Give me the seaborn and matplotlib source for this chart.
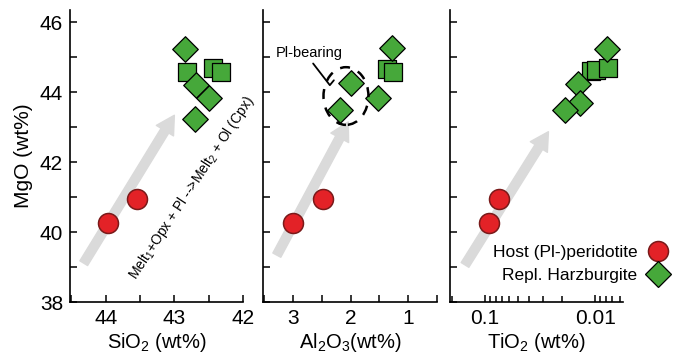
import matplotlib
matplotlib.use("Agg")
import matplotlib.pyplot as plt
import numpy as np
import pandas as pd
import seaborn as sns
from matplotlib.lines import Line2D
from matplotlib.patches import Ellipse
from matplotlib.ticker import MultipleLocator, FixedLocator, NullFormatter

# host (Pl-)peridotite, shared MgO
host_mgo = [40.25, 40.95]
host_sio2 = [43.97, 43.54]
host_al2o3 = [3.00, 2.48]
host_tio2 = [0.092, 0.074]

# replacive harzburgite, diamonds
dia_sio2 = [42.85, 42.68, 42.50, 42.70]
dia_sio2_mgo = [45.23, 44.20, 43.83, 43.23]
dia_al2o3 = [1.28, 2.00, 1.52, 2.18]
dia_al2o3_mgo = [45.25, 44.25, 43.82, 43.49]
dia_tio2 = [0.0078, 0.0142, 0.0137, 0.0187]
dia_tio2_mgo = [45.23, 44.22, 43.68, 43.49]

# replacive harzburgite, squares
sq_sio2 = [42.81, 42.43, 42.32]
sq_sio2_mgo = [44.57, 44.69, 44.57]
sq_al2o3 = [1.37, 1.26]
sq_al2o3_mgo = [44.65, 44.58]
sq_tio2 = [0.0109, 0.0098, 0.0076]
sq_tio2_mgo = [44.60, 44.62, 44.70]

# trend arrows (start, tip) in data units
arrow_sio2 = [(44.32, 39.11), (43.00, 43.34)]
arrow_al2o3 = [(3.28, 39.34), (2.04, 43.15)]
arrow_tio2 = [(0.152, 39.06), (0.0266, 42.87)]

red = "#e32227"
red_edge = "#7a1a1a"
green = "#46a83a"
grey = "#dadada"

sns.set_style("ticks")
plt.rcParams["font.family"] = ["Liberation Sans", "DejaVu Sans"]
plt.rcParams["mathtext.fontset"] = "custom"
plt.rcParams["mathtext.rm"] = "Liberation Sans"
plt.rcParams["text.color"] = "black"
plt.rcParams["axes.labelcolor"] = "black"

fig = plt.figure(figsize=(6.75, 3.54), dpi=100)
W, H = 675, 354
bottom = (H - 302) / H
height = 292 / H
ax1 = fig.add_axes([70 / W, bottom, 173 / W, height])
ax2 = fig.add_axes([263 / W, bottom, 174 / W, height])
ax3 = fig.add_axes([450 / W, bottom, 173 / W, height])


def draw(ax, hx, dx, dy, sx, sy, arrow):
    ax.annotate("", xy=arrow[1], xytext=arrow[0],
                arrowprops=dict(arrowstyle="simple,head_width=1.45,head_length=1.3,tail_width=0.65",
                                color=grey, mutation_scale=10, shrinkA=0, shrinkB=0),
                zorder=1)
    host = pd.DataFrame({"x": hx, "y": host_mgo})
    sq = pd.DataFrame({"x": sx, "y": sy})
    dia = pd.DataFrame({"x": dx, "y": dy})
    sns.scatterplot(data=host, x="x", y="y", marker="o", s=207, color=red,
                    edgecolor=red_edge, linewidth=1.1, ax=ax, zorder=3, legend=False)
    sns.scatterplot(data=sq, x="x", y="y", marker="s", s=169, color=green,
                    edgecolor="black", linewidth=0.9, ax=ax, zorder=3, legend=False)
    sns.scatterplot(data=dia, x="x", y="y", marker="D", s=169, color=green,
                    edgecolor="black", linewidth=0.9, ax=ax, zorder=4, legend=False)
    ax.set_ylim(38, 46.35)
    ax.yaxis.set_major_locator(MultipleLocator(2))
    ax.yaxis.set_minor_locator(MultipleLocator(1))
    sns.despine(ax=ax)
    for s in ("left", "bottom"):
        ax.spines[s].set_linewidth(1.2)
        ax.spines[s].set_color("black")
    ax.tick_params(which="both", direction="in", length=5, width=1.1,
                   labelsize=15, pad=5, colors="black")
    ax.set_ylabel("")


draw(ax1, host_sio2, dia_sio2, dia_sio2_mgo, sq_sio2, sq_sio2_mgo, arrow_sio2)
ax1.set_xlim(44.52, 42.0)
ax1.xaxis.set_major_locator(MultipleLocator(1))
ax1.xaxis.set_minor_locator(MultipleLocator(0.5))
ax1.set_xlabel("SiO$\\mathregular{_2}$ (wt%)", fontsize=14.5, labelpad=2)
ax1.set_ylabel("MgO (wt%)", fontsize=15, labelpad=5)
ax1.text(42.74, 41.26, "Melt$\\mathregular{_1}$+Opx + Pl -->Melt$\\mathregular{_2}$ + Ol (Cpx)",
         rotation=56.7, rotation_mode="anchor", ha="center", va="center", fontsize=10)

draw(ax2, host_al2o3, dia_al2o3, dia_al2o3_mgo, sq_al2o3, sq_al2o3_mgo, arrow_al2o3)
ax2.set_xlim(3.52, 0.5)
ax2.xaxis.set_major_locator(MultipleLocator(1))
ax2.xaxis.set_minor_locator(MultipleLocator(0.5))
ax2.yaxis.set_major_formatter(NullFormatter())
ax2.set_xlabel("Al$\\mathregular{_2}$O$\\mathregular{_3}$(wt%)", fontsize=14.5, labelpad=2)
ax2.add_patch(Ellipse((2.08, 43.89), 0.78, 1.65, angle=0, fill=False, ec="black",
                      lw=1.8, ls=(0, (4, 3.5)), zorder=5))
ax2.plot([2.65, 2.36, 2.29], [44.82, 44.20, 44.34], color="black", lw=1.3, zorder=5)
ax2.text(2.72, 45.11, "Pl-bearing", ha="center", va="center", fontsize=10.5)

draw(ax3, host_tio2, dia_tio2, dia_tio2_mgo, sq_tio2, sq_tio2_mgo, arrow_tio2)
ax3.set_xscale("log")
ax3.set_xlim(0.208, 0.0056)
ax3.xaxis.set_major_locator(FixedLocator([0.1, 0.01]))
ax3.set_xticklabels(["0.1", "0.01"])
ax3.xaxis.set_minor_locator(FixedLocator([0.2, 0.09, 0.08, 0.07, 0.06, 0.05, 0.04, 0.03,
                                          0.02, 0.009, 0.008, 0.007, 0.006]))
ax3.xaxis.set_minor_formatter(NullFormatter())
ax3.tick_params(axis="x", which="minor", length=4)
ax3.yaxis.set_major_formatter(NullFormatter())
ax3.set_xlabel("TiO$\\mathregular{_2}$ (wt%)", fontsize=14.5, labelpad=2)

handles = [
    Line2D([], [], ls="none", marker="o", ms=14.4, mfc=red, mec=red_edge, mew=1.1),
    Line2D([], [], ls="none", marker="D", ms=13, mfc=green, mec="black", mew=0.9),
]
fig.legend(handles, ["Host (Pl-)peridotite", "Repl. Harzburgite"], loc="center left",
           bbox_to_anchor=(493 / W, 1 - 264 / H), frameon=False, markerfirst=False,
           fontsize=12.5, handlelength=1.3, handletextpad=0.5, labelspacing=0.5,
           borderpad=0, borderaxespad=0)

fig.savefig("out.png", dpi=100)
